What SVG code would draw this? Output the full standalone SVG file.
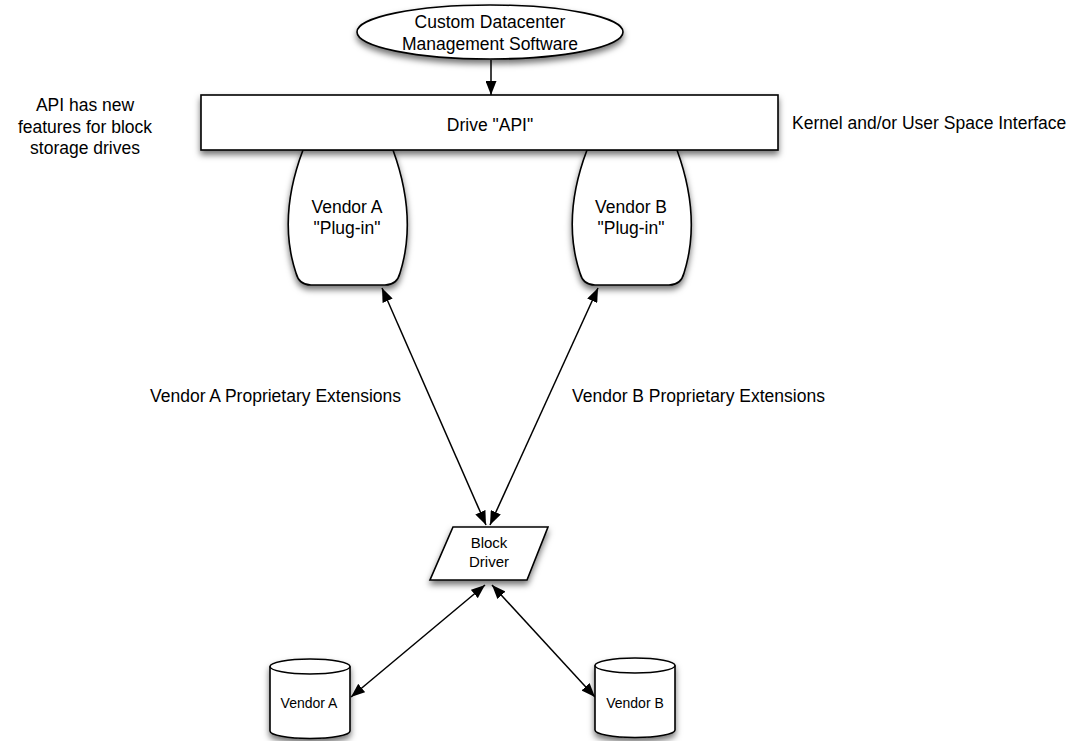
<svg xmlns="http://www.w3.org/2000/svg" width="1088" height="741" viewBox="0 0 1088 741">
<defs>
<filter id="sh" x="-20%" y="-20%" width="140%" height="150%">
<feDropShadow dx="0" dy="4" stdDeviation="3" flood-color="#000" flood-opacity="0.55"/>
</filter>
<marker id="ah" viewBox="0 0 14 11" refX="14" refY="5.5" markerWidth="14" markerHeight="11" markerUnits="userSpaceOnUse" orient="auto-start-reverse">
<path d="M0,0 L14,5.5 L0,11 Z" fill="#000"/>
</marker>
</defs>
<style>
.shape{fill:#fff;stroke:#000;stroke-width:1.6;filter:url(#sh)}
.t{font-family:"Liberation Sans",Arial,Helvetica,sans-serif;font-size:17.5px;fill:#000}
.c{text-anchor:middle}
.s{font-size:14px}
.m{font-size:15px}
.ln{fill:none;stroke:#000;stroke-width:1.5}
</style>
<rect width="1088" height="741" fill="#fff"/>

<g id="connectors">
<line class="ln" x1="491" y1="60" x2="491" y2="95" marker-end="url(#ah)"/>
<line class="ln" x1="382" y1="288" x2="486" y2="525" marker-start="url(#ah)" marker-end="url(#ah)"/>
<line class="ln" x1="598" y1="288" x2="490" y2="525" marker-start="url(#ah)" marker-end="url(#ah)"/>
<line class="ln" x1="485" y1="585" x2="351" y2="697" marker-start="url(#ah)" marker-end="url(#ah)"/>
<line class="ln" x1="492" y1="585" x2="595" y2="697" marker-start="url(#ah)" marker-end="url(#ah)"/>
</g>

<g id="plugin-a">
<path class="shape" d="M303,150 L393,150 Q417.5,217.5 400,273 Q397,285 385,285 L311,285 Q299,285 296,273 Q277.5,217.5 303,150 Z"/>
<text class="t c" x="347" y="213">Vendor A</text>
<text class="t c" x="347" y="234">"Plug-in"</text>
</g>

<g id="plugin-b">
<path class="shape" d="M587,150 L677,150 Q701.5,217.5 684,273 Q681,285 669,285 L595,285 Q583,285 580,273 Q561.5,217.5 587,150 Z"/>
<text class="t c" x="631" y="213">Vendor B</text>
<text class="t c" x="631" y="234">"Plug-in"</text>
</g>

<g id="drive-api">
<rect class="shape" x="201" y="95" width="577" height="55"/>
<text class="t c" x="490" y="131">Drive "API"</text>
</g>

<g id="software">
<ellipse class="shape" cx="490" cy="32" rx="133" ry="27"/>
<text class="t c" x="490" y="28">Custom Datacenter</text>
<text class="t c" x="490" y="50">Management Software</text>
</g>

<g id="block-driver">
<path class="shape" d="M453,527 L548,527 L527,580 L430,580 Z"/>
<text class="t c m" x="489" y="548">Block</text>
<text class="t c m" x="489" y="567">Driver</text>
</g>

<g id="disk-a">
<path class="shape" d="M270,666.5 A40,7.5 0 0 1 350,666.5 L350,731 A40,7.5 0 0 1 270,731 Z"/>
<path class="ln" d="M270,666.5 A40,7.5 0 0 0 350,666.5"/>
<text class="t c s" x="309" y="708">Vendor A</text>
</g>

<g id="disk-b">
<path class="shape" d="M595,665.5 A40,7.5 0 0 1 675,665.5 L675,730 A40,7.5 0 0 1 595,730 Z"/>
<path class="ln" d="M595,665.5 A40,7.5 0 0 0 675,665.5"/>
<text class="t c s" x="635" y="708">Vendor B</text>
</g>

<g id="labels">
<text class="t c" x="85" y="111">API has new</text>
<text class="t c" x="85" y="133">features for block</text>
<text class="t c" x="85" y="154">storage drives</text>
<text class="t" x="792" y="129">Kernel and/or User Space Interface</text>
<text class="t" x="150" y="402">Vendor A Proprietary Extensions</text>
<text class="t" x="572" y="402">Vendor B Proprietary Extensions</text>
</g>
</svg>
